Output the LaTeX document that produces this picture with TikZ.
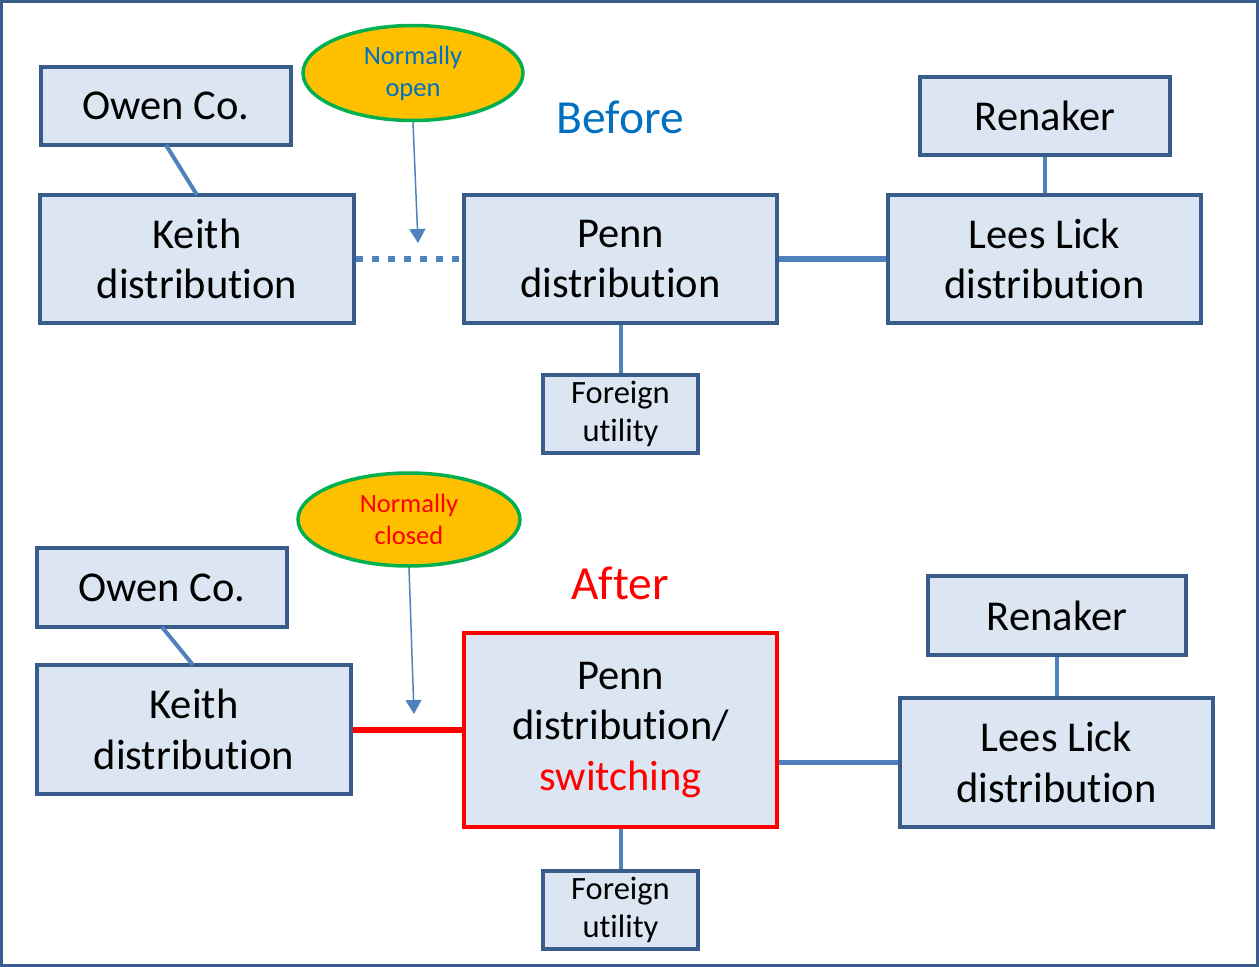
\documentclass[tikz,border=0pt]{standalone}
\usepackage{fontspec}
\setmainfont[Ligatures={NoCommon,NoContextual,NoRequired},RawFeature={-liga;-clig;-calt;-dlig}]{Carlito}
\usetikzlibrary{arrows.meta,shapes.geometric}
\definecolor{boxfill}{HTML}{DCE6F2}
\definecolor{boxline}{HTML}{385D8A}
\definecolor{conn}{HTML}{4F81BD}
\definecolor{ellfill}{HTML}{FFC000}
\definecolor{ellline}{HTML}{00B050}
\definecolor{titleblue}{HTML}{0070C0}
\definecolor{pred}{HTML}{FF0000}
\tikzset{
  box/.style={draw=boxline,fill=boxfill,line width=3.5pt,inner sep=0pt,align=center,font=\fontsize{42.5}{50.5}\selectfont},
  smallbox/.style={box,font=\fontsize{32.5}{38}\selectfont},
  note/.style={ellipse,draw=ellline,fill=ellfill,line width=3.5pt,inner sep=0pt,align=center,font=\fontsize{26.5}{32}\selectfont},
  title/.style={font=\fontsize{47.5}{55}\selectfont},
  link/.style={draw=conn,line width=5.5pt},
  thinlink/.style={draw=conn,line width=4pt},
  pointer/.style={draw=conn,line width=1.5pt,-{Triangle[length=14pt,width=16pt]}},
}
\begin{document}
\begin{tikzpicture}[x=1pt,y=-1pt]
\useasboundingbox (0,0) rectangle (1259,967);
\draw[boxline,line width=3pt] (1.5,1.5) rectangle (1257.5,965.5);
% Before
\node[box,minimum width=250pt,minimum height=78pt] (owen1) at (166,106) {Owen Co.};
\node[box,minimum width=314pt,minimum height=128pt] (keith1) at (197,259) {Keith\\distribution};
\node[box,minimum width=313pt,minimum height=128pt] (penn1) at (620.5,259) {Penn\\distribution};
\node[box,minimum width=313pt,minimum height=128pt] (lees1) at (1044.5,259) {Lees Lick\\distribution};
\node[box,minimum width=250pt,minimum height=78pt] (ren1) at (1045,116) {Renaker};
\node[smallbox,minimum width=155pt,minimum height=78pt] (for1) at (620.5,414) {Foreign\\utility};
\node[note,minimum width=220pt,minimum height=95pt,text=titleblue] (ell1) at (413,73) {Normally\\open};
\node[title,text=titleblue] (before) at (620,117) {Before};
\coordinate (tip1) at (418,243);
\draw[pointer] (ell1.south) -- (tip1);
\draw[link,line width=6pt,dash pattern=on 7pt off 9pt] (keith1.east) -- (penn1.west);
\draw[link] (penn1.east) -- (lees1.west);
\draw[thinlink] (166,145) -- (197,195);
\draw[thinlink] (ren1.south) -- (lees1.north -| ren1.south);
\draw[thinlink] (penn1.south) -- (for1.north);
% After
\node[box,minimum width=250pt,minimum height=79pt] (owen2) at (162,587.5) {Owen Co.};
\node[box,minimum width=314pt,minimum height=129pt] (keith2) at (194,729.5) {Keith\\distribution};
\node[box,draw=pred,minimum width=313pt,minimum height=194pt] (penn2) at (620.5,730) {Penn\\distribution/\\\textcolor{pred}{switching}};
\node[box,minimum width=313pt,minimum height=129pt] (lees2) at (1056.5,762.5) {Lees Lick\\distribution};
\node[box,minimum width=258pt,minimum height=79pt] (ren2) at (1057,615.5) {Renaker};
\node[smallbox,minimum width=155pt,minimum height=78pt] (for2) at (620.5,910) {Foreign\\utility};
\node[note,minimum width=222pt,minimum height=93pt,text=pred] (ell2) at (409,519.5) {Normally\\closed};
\node[title,text=pred] (after) at (620,583) {After};
\coordinate (tip2) at (414,714);
\draw[pointer] (ell2.south) -- (tip2);
\draw[pred,line width=6pt] (keith2.east) -- (keith2.east -| penn2.west);
\draw[link] (penn2.east |- lees2.west) -- (lees2.west);
\draw[thinlink] (162,627) -- (193,665);
\draw[thinlink] (ren2.south) -- (lees2.north -| ren2.south);
\draw[thinlink] (penn2.south) -- (for2.north);
\end{tikzpicture}
\end{document}
